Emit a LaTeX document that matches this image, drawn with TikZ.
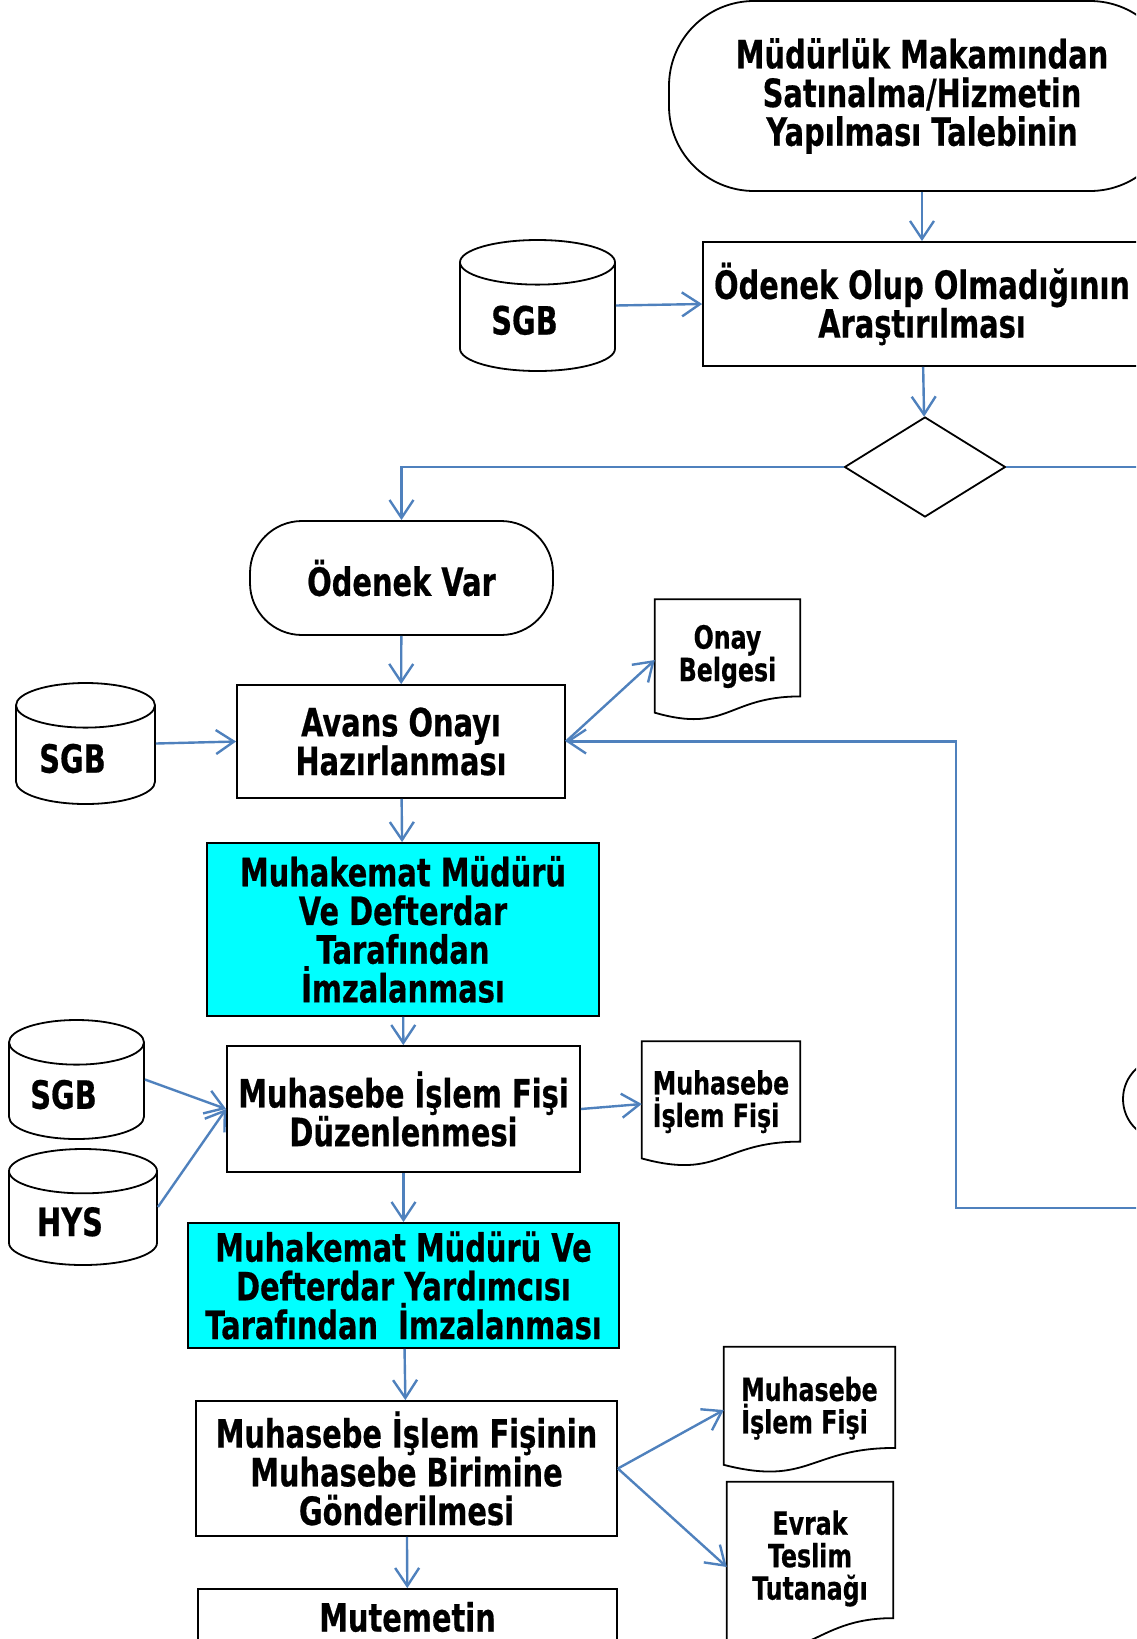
\documentclass[tikz,border=0pt]{standalone}
\usepackage{fontspec}
\newfontfamily\flowfont{DejaVu Sans}[UprightFont=* Bold, FakeStretch=0.74, FakeBold=0.5]
\usetikzlibrary{shapes.geometric, arrows.meta, positioning, calc}
\definecolor{mavi}{RGB}{79,129,189}
\definecolor{camgobegi}{RGB}{0,255,255}
\newcommand{\buyuk}{\flowfont\fontsize{39}{38.7}\selectfont}
\newcommand{\kucuk}{\flowfont\fontsize{32}{32.5}\selectfont}

\begin{document}
\begin{tikzpicture}[x=1pt, y=-1pt,
    ok/.style={draw=mavi, line width=2.4pt, -{Straight Barb[length=18pt, width=24pt]}},
    cizgi/.style={draw=mavi, line width=2.4pt},
    kutu/.style={draw, line width=1.8pt, font=\buyuk, align=center, inner sep=0pt},
    imza/.style={kutu, fill=camgobegi},
    bitis/.style={kutu, rounded corners=#1},
    kosul/.style={draw, diamond, line width=1.8pt, inner sep=0pt},
    veri/.style={draw, cylinder, shape border rotate=90, shape aspect=0.45, line width=1.8pt,
        anchor=shape center, font=\buyuk, execute at end node={\kern26pt}},
    belge/.style={font=\kucuk, align=center, inner sep=0pt}]
    \useasboundingbox (0,0) rectangle (1136,1639);
    \clip (0,0) rectangle (1136,1639);

    % ust kisim
    \node[bitis=85pt, minimum width=506pt, minimum height=190pt] (talep) at (922,96)
        {Müdürlük Makamından\\Satınalma/Hizmetin\\Yapılması Talebinin};
    \node[kutu, minimum width=438pt, minimum height=124pt] (arastir) at (922,304)
        {Ödenek Olup Olmadığının\\Araştırılması};
    \node[veri, minimum width=155pt, minimum height=131pt] (sgbA) at (537.5,305.5) {SGB};
    \node[kosul, minimum width=161pt, minimum height=100pt] (karar) at (925,467) {};
    \coordinate (sag) at (1150,467);

    % odenek var kolu
    \node[bitis=52pt, minimum width=303pt, minimum height=114pt] (var) at (401.5,578) {Ödenek Var};
    \node[kutu, minimum width=328pt, minimum height=113pt] (avans) at (401,741.5)
        {Avans Onayı\\Hazırlanması};
    \node[veri, minimum width=139pt, minimum height=121pt] (sgbB) at (85.5,743.5) {SGB};
    \node[belge, minimum width=145pt, minimum height=121pt, text depth=14pt] (onay) at (727.5,660)
        {Onay\\Belgesi};
    \node[draw, circle, line width=1.8pt, minimum size=82pt] (baglanti) at (1164,1099) {};
    \coordinate (geri) at (1150,1208);

    \node[imza, minimum width=392pt, minimum height=173pt] (imzaA) at (403,929.5)
        {Muhakemat Müdürü\\Ve Defterdar\\Tarafından\\İmzalanması};
    \node[kutu, minimum width=353pt, minimum height=126pt] (duzen) at (403.5,1109)
        {Muhasebe İşlem Fişi\\Düzenlenmesi};
    \node[veri, minimum width=135pt, minimum height=119pt] (sgbC) at (76.5,1079.5) {SGB};
    \node[veri, minimum width=148pt, minimum height=116pt] (hys) at (83,1207) {HYS};
    \node[belge, align=left, minimum width=158pt, minimum height=125pt, text depth=11pt] (fisA) at (721,1104)
        {Muhasebe\\İşlem Fişi};

    \node[imza, minimum width=431pt, minimum height=125pt] (imzaB) at (403.5,1285.5)
        {Muhakemat Müdürü Ve\\Defterdar Yardımcısı\\Tarafından\ \ İmzalanması};
    \node[kutu, minimum width=421pt, minimum height=135pt] (gonder) at (406.5,1468.5)
        {Muhasebe İşlem Fişinin\\Muhasebe Birimine\\Gönderilmesi};
    \node[belge, align=left, minimum width=171pt, minimum height=126pt, text depth=10pt] (fisB) at (809.5,1410)
        {Muhasebe\\İşlem Fişi};
    \node[belge, minimum width=166pt, minimum height=170pt, text depth=24pt] (evrak) at (810,1567)
        {Evrak\\Teslim\\Tutanağı};
    \node[kutu, minimum width=419pt, minimum height=56pt] (mutemet) at (407.5,1617) {Mutemetin};

    % belge sekilleri
    \foreach \b in {onay, fisA, fisB, evrak}
        \draw[line width=1.8pt] (\b.north west) -- (\b.north east) -- ($(\b.north east)!0.8!(\b.south east)$)
            .. controls ($(\b.north)!0.8!(\b.south)$) and ($(\b.north)!1.107!(\b.south)$)
            .. ($(\b.north west)!0.934!(\b.south west)$) -- cycle;

    % baglantilar
    \draw[ok] (talep) -- (arastir);
    \draw[ok] (sgbA.east |- sgbA.shape center) -- (arastir.west);
    \draw[ok] (arastir) -- (karar);
    \draw[ok] (karar.west) -| (var.north);
    \draw[cizgi] (karar.east) -- (sag);
    \draw[ok] (var) -- (avans);
    \draw[ok] (sgbB.east |- sgbB.shape center) -- (avans.west);
    \draw[ok] (avans.east) -- (onay.west);
    \draw[ok] (geri) -| ($(avans.east)+(390,0)$) -- (avans.east);
    \draw[ok] (avans) -- (imzaA);
    \draw[ok] (imzaA) -- (duzen);
    \draw[ok] (sgbC.east |- sgbC.shape center) -- (duzen.west);
    \draw[ok] (hys.east |- hys.shape center) -- (duzen.west);
    \draw[ok] (duzen.east) -- (fisA.west);
    \draw[ok] (duzen) -- (imzaB);
    \draw[ok] (imzaB) -- (gonder);
    \draw[ok] (gonder.east) -- (fisB.west);
    \draw[ok] (gonder.east) -- (evrak.west);
    \draw[ok] (gonder) -- (mutemet);
\end{tikzpicture}
\end{document}
